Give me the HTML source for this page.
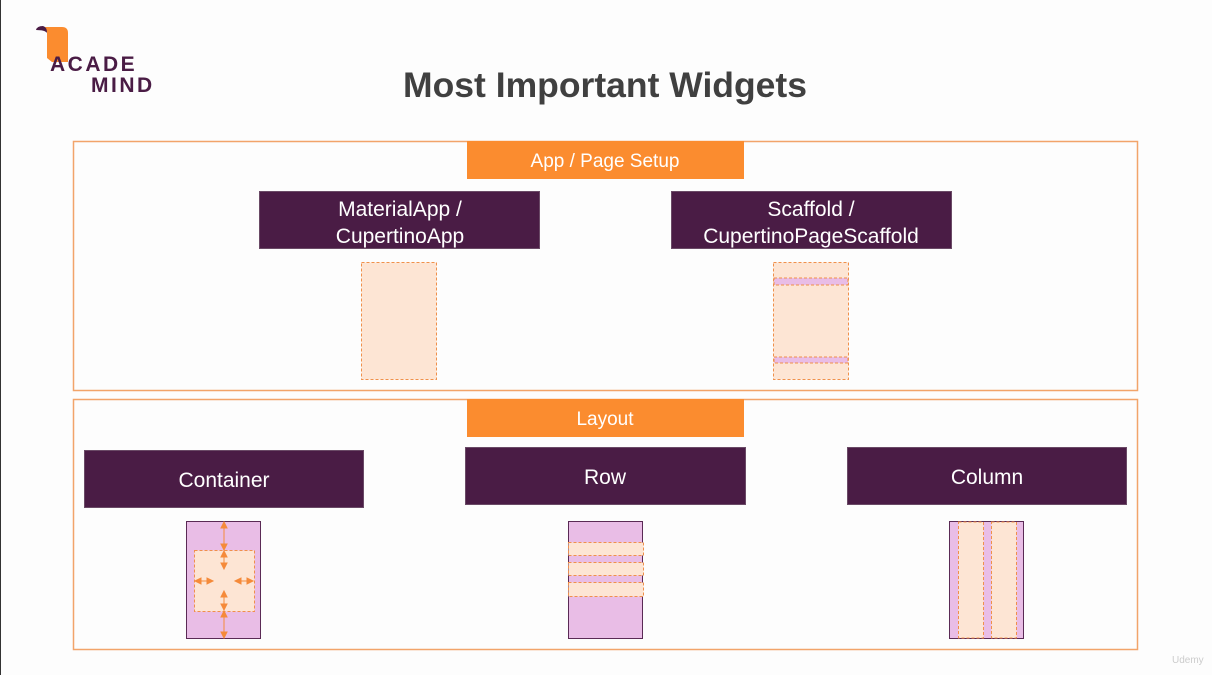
<!DOCTYPE html>
<html><head><meta charset="utf-8"><style>
html,body{margin:0;padding:0;background:#fdfdfd;width:1212px;height:675px;overflow:hidden}
svg{display:block}
text{font-family:"Liberation Sans",sans-serif}
</style></head><body>
<svg width="1212" height="675" viewBox="0 0 1212 675" xmlns="http://www.w3.org/2000/svg">
<rect x="0" y="0" width="1212" height="675" fill="#fdfdfd"/>
<line x1="0.5" y1="0" x2="0.5" y2="675" stroke="#333" stroke-width="1"/>
<!-- logo -->
<path d="M43 27 L62 27 Q68 27 68 33 L68 62 L52 62 L47 58 L47 33 Q46 29 43 29 Z" fill="#fb8c2f"/>
<path d="M36 30 Q37 26 43 26 Q47 27 47 33 Q45 30 36 30 Z" fill="#4a1c45"/>
<text x="50" y="71" font-size="21" font-weight="bold" fill="#4a1c45" letter-spacing="2.5">ACADE</text>
<text x="91" y="92" font-size="21" font-weight="bold" fill="#4a1c45" letter-spacing="2.5">MIND</text>
<!-- title -->
<text x="605" y="97" font-size="35.5" font-weight="bold" fill="#404040" text-anchor="middle">Most Important Widgets</text>
<!-- sections -->
<rect x="73.5" y="141.5" width="1064" height="249" fill="none" stroke="#f2a46a" stroke-width="1.5"/>
<rect x="73.5" y="399.5" width="1064" height="250" fill="none" stroke="#f2a46a" stroke-width="1.5"/>
<rect x="467" y="141" width="277" height="38" fill="#fb8c2f"/>
<text x="605" y="167" font-size="19" fill="#fff" text-anchor="middle">App / Page Setup</text>
<rect x="467" y="399" width="277" height="38" fill="#fb8c2f"/>
<text x="605" y="425" font-size="19" fill="#fff" text-anchor="middle">Layout</text>
<!-- widget boxes -->
<g fill="#4a1c45" stroke="#6a4a66" stroke-width="1">
<rect x="259.5" y="191.5" width="280" height="57"/>
<rect x="671.5" y="191.5" width="280" height="57"/>
<rect x="84.5" y="450.5" width="279" height="57"/>
<rect x="465.5" y="447.5" width="280" height="57"/>
<rect x="847.5" y="447.5" width="279" height="57"/>
</g>
<g fill="#fff" font-size="21" text-anchor="middle">
<text x="400" y="216">MaterialApp /</text>
<text x="400" y="243">CupertinoApp</text>
<text x="811" y="216">Scaffold /</text>
<text x="811" y="243">CupertinoPageScaffold</text>
<text x="224" y="487">Container</text>
<text x="605" y="484">Row</text>
<text x="987" y="484">Column</text>
</g>
<!-- MaterialApp phone -->
<rect x="361.5" y="262.5" width="75" height="117" fill="#fde5d4" stroke="#f0904a" stroke-dasharray="3,2"/>
<!-- Scaffold phone -->
<rect x="773.5" y="262.5" width="75" height="117" fill="#fde5d4" stroke="#f0904a" stroke-dasharray="3,2"/>
<rect x="774" y="278" width="74" height="7" fill="#e9bde6" stroke="#f0904a" stroke-dasharray="3,2"/>
<rect x="774" y="357" width="74" height="6" fill="#e9bde6" stroke="#f0904a" stroke-dasharray="3,2"/>
<!-- Container phone -->
<rect x="186.5" y="521.5" width="74" height="117" fill="#e9bde6" stroke="#5a2a55"/>
<rect x="194.5" y="550.5" width="60" height="61" fill="#fde5d4" stroke="#f0904a" stroke-dasharray="3,2"/>
<g stroke="#f58a3a" stroke-width="1" fill="#f58a3a">
<line x1="224" y1="523" x2="224" y2="549"/>
<line x1="224" y1="612" x2="224" y2="637"/>
<line x1="224" y1="552" x2="224" y2="568"/>
<line x1="224" y1="592" x2="224" y2="609"/>
<line x1="196" y1="581" x2="212" y2="581"/>
<line x1="236" y1="581" x2="252" y2="581"/>
<path d="M224 522 l-3 6 h6z"/><path d="M224 550 l-3 -6 h6z"/>
<path d="M224 611 l-3 6 h6z"/><path d="M224 638 l-3 -6 h6z"/>
<path d="M224 551 l-3 6 h6z"/><path d="M224 569 l-3 -6 h6z"/>
<path d="M224 591 l-3 6 h6z"/><path d="M224 610 l-3 -6 h6z"/>
<path d="M195 581 l6 -3 v6z"/><path d="M213 581 l-6 -3 v6z"/>
<path d="M235 581 l6 -3 v6z"/><path d="M253 581 l-6 -3 v6z"/>
</g>
<!-- Row phone -->
<rect x="568.5" y="521.5" width="74" height="117" fill="#e9bde6" stroke="#5a2a55"/>
<g fill="#fde5d4" stroke="#f0904a" stroke-dasharray="3,2">
<rect x="568.5" y="542.5" width="75" height="13"/>
<rect x="568.5" y="562.5" width="75" height="13"/>
<rect x="568.5" y="582.5" width="75" height="14"/>
</g>
<!-- Column phone -->
<rect x="949.5" y="521.5" width="74" height="117" fill="#e9bde6" stroke="#5a2a55"/>
<g fill="#fde5d4" stroke="#f0904a" stroke-dasharray="3,2">
<rect x="958.5" y="522" width="25" height="116"/>
<rect x="991.5" y="522" width="25" height="116"/>
</g>
<text x="1172" y="663" font-size="10" fill="#ccc">Udemy</text>
</svg>
</body></html>
